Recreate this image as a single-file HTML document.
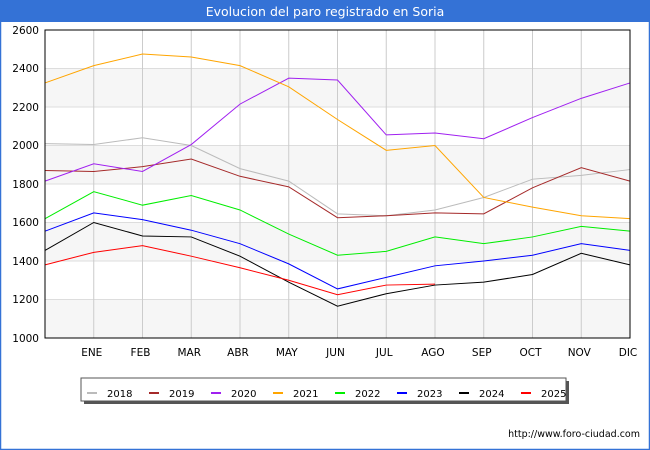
<!DOCTYPE html>
<html><head><meta charset="utf-8"><style>
body{margin:0;background:#fff;}
svg{display:block;font-family:"DejaVu Sans","Liberation Sans",sans-serif;}
</style></head><body>
<svg id="c" width="650" height="450" xmlns="http://www.w3.org/2000/svg">
<rect x="0" y="0" width="650" height="450" fill="#fff"/>
<rect x="0.5" y="0.5" width="649" height="449" fill="none" stroke="#3472d6" stroke-width="1.5"/>
<rect x="0" y="0" width="650" height="22" fill="#3472d6"/>
<text x="325" y="16" font-size="12.5" fill="#fff" text-anchor="middle">Evolucion del paro registrado en Soria</text>
<g id="bands"></g>
<g id="grid"></g>
<g id="lines"></g>
<rect x="45" y="30" width="585" height="308" fill="none" stroke="#000" stroke-width="1"/>
<g font-size="10.5" fill="#000" text-anchor="end">
<text x="39" y="34">2600</text><text x="39" y="72">2400</text><text x="39" y="111">2200</text><text x="39" y="149">2000</text><text x="39" y="188">1800</text><text x="39" y="226">1600</text><text x="39" y="265">1400</text><text x="39" y="303">1200</text><text x="39" y="342">1000</text>
</g>
<g font-size="10.5" fill="#000" text-anchor="middle" id="xl"></g>
<rect x="84" y="381" width="485" height="23" fill="#555"/>
<rect x="81" y="378" width="485" height="23" fill="#fff" stroke="#555" stroke-width="1"/>
<g id="leg" font-size="10"></g>
<text x="640" y="437" font-size="9.5" text-anchor="end" fill="#000">http://www.foro-ciudad.com</text>
</svg>
<script>
const ns="http://www.w3.org/2000/svg";
function el(t,a,p,txt){const e=document.createElementNS(ns,t);for(const k in a)e.setAttribute(k,a[k]);if(txt)e.textContent=txt;document.getElementById(p).appendChild(e);}
const Y=v=>338-(v-1000)*308/1600, X=i=>45+i*48.75;
[[2200,2400],[1800,2000],[1400,1600],[1000,1200]].forEach(b=>el('rect',{x:45,y:Y(b[1]),width:585,height:Y(b[0])-Y(b[1]),fill:'#f6f6f6'},'bands'));
for(let v=1200;v<2600;v+=200)el('line',{x1:45,x2:630,y1:Y(v),y2:Y(v),stroke:'#ddd'},'grid');
for(let i=1;i<12;i++)el('line',{x1:X(i),x2:X(i),y1:30,y2:338,stroke:'#ccc'},'grid');
const m=['ENE','FEB','MAR','ABR','MAY','JUN','JUL','AGO','SEP','OCT','NOV','DIC'];
m.forEach((s,i)=>el('text',{x:X(i+1)-2,y:356},'xl',s));
const D=[
['#bbbbbb',[2010,2005,2040,2000,1880,1815,1645,1635,1665,1730,1825,1845,1875],'2018'],
['#a52a2a',[1870,1865,1890,1930,1840,1785,1625,1635,1650,1645,1780,1885,1815],'2019'],
['#a020f0',[1815,1905,1865,2005,2215,2350,2340,2055,2065,2035,2145,2245,2325],'2020'],
['#ffa500',[2325,2415,2475,2460,2415,2305,2135,1975,2000,1730,1680,1635,1620],'2021'],
['#00ee00',[1620,1760,1690,1740,1665,1540,1430,1450,1525,1490,1525,1580,1555],'2022'],
['#0000ff',[1555,1650,1615,1560,1490,1385,1255,1315,1375,1400,1430,1490,1455],'2023'],
['#000000',[1455,1600,1530,1525,1425,1290,1165,1230,1275,1290,1330,1440,1380],'2024'],
['#ff0000',[1380,1445,1480,1425,1365,1300,1225,1275,1280],'2025']];
D.forEach((d,k)=>{el('polyline',{points:d[1].map((v,i)=>X(i)+','+Y(v)).join(' '),fill:'none',stroke:d[0],'stroke-width':1},'lines');
const lx=87+k*62;el('line',{x1:lx,x2:lx+10,y1:393,y2:393,stroke:d[0],'stroke-width':2},'leg');el('text',{x:lx+20,y:397},'leg',d[2]);});
</script>
</body></html>
